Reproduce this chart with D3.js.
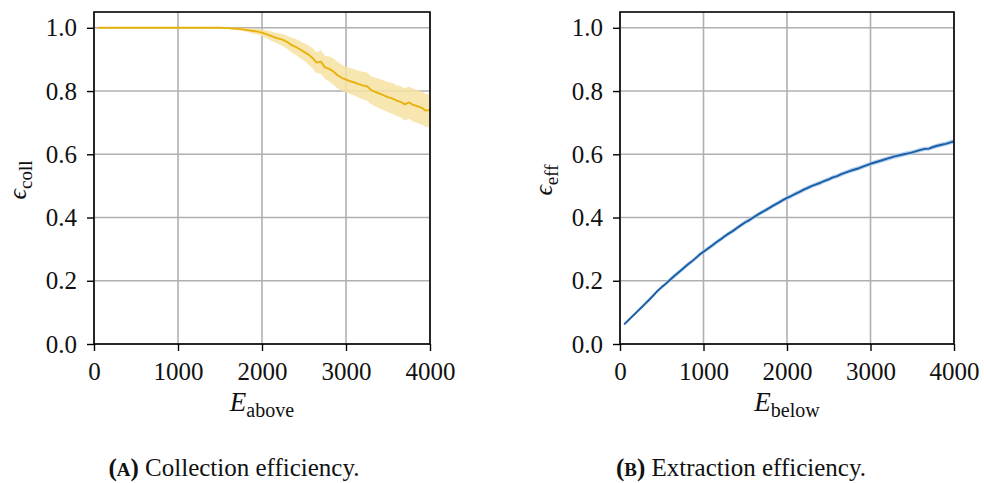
<!DOCTYPE html>
<html>
<head>
<meta charset="utf-8">
<script src="https://cdn.jsdelivr.net/npm/d3@7"></script>
<style>
  body { margin: 0; background: #fff; }
  svg { display: block; }
  text { font-family: "Liberation Serif", "DejaVu Serif", serif; fill: #111; }
</style>
</head>
<body>
<svg id="fig" width="984" height="483"></svg>
<script>
// Energy thresholds sampled along the x axis
const energies = [50,100,150,200,250,300,350,400,450,500,550,600,650,700,750,800,850,900,950,1000,
  1050,1100,1150,1200,1250,1300,1350,1400,1450,1500,1550,1600,1650,1700,1750,1800,1850,1900,1950,2000,
  2050,2100,2150,2200,2250,2300,2350,2400,2450,2500,2550,2600,2650,2700,2750,2800,2850,2900,2950,3000,
  3050,3100,3150,3200,3250,3300,3350,3400,3450,3500,3550,3600,3650,3700,3750,3800,3850,3900,3950,4000];

// (A) collection efficiency: mean, lower and upper band
const collMean = [1.000,1.000,1.000,1.000,1.000,1.000,1.000,1.000,1.000,1.000,1.000,1.000,1.000,1.000,1.000,1.000,1.000,1.000,1.000,1.000,
  1.000,1.000,1.000,1.000,1.000,1.000,1.000,1.000,1.000,1.000,0.999,0.999,0.998,0.997,0.996,0.994,0.992,0.990,0.988,0.985,
  0.980,0.975,0.970,0.966,0.962,0.955,0.946,0.940,0.932,0.924,0.916,0.905,0.890,0.893,0.875,0.870,0.862,0.850,0.842,0.836,
  0.831,0.827,0.822,0.818,0.815,0.803,0.797,0.792,0.786,0.781,0.777,0.770,0.766,0.758,0.764,0.756,0.752,0.747,0.738,0.740];
const collLow = [1.000,1.000,1.000,1.000,1.000,1.000,1.000,1.000,1.000,1.000,1.000,1.000,1.000,1.000,1.000,1.000,1.000,1.000,1.000,1.000,
  1.000,1.000,1.000,1.000,1.000,1.000,1.000,1.000,0.999,0.999,0.998,0.997,0.995,0.993,0.991,0.988,0.985,0.981,0.978,0.974,
  0.967,0.961,0.954,0.948,0.942,0.933,0.922,0.914,0.905,0.896,0.885,0.872,0.856,0.855,0.838,0.830,0.820,0.808,0.801,0.796,
  0.790,0.786,0.779,0.774,0.770,0.758,0.751,0.745,0.739,0.733,0.728,0.722,0.716,0.707,0.712,0.703,0.699,0.694,0.686,0.687];
const collHigh = [1.000,1.000,1.000,1.000,1.000,1.000,1.000,1.000,1.000,1.000,1.000,1.000,1.000,1.000,1.000,1.000,1.000,1.000,1.000,1.000,
  1.000,1.000,1.000,1.000,1.000,1.000,1.000,1.000,1.000,1.000,1.000,1.000,1.000,1.000,1.000,0.999,0.998,0.997,0.996,0.995,
  0.992,0.989,0.985,0.983,0.980,0.976,0.969,0.965,0.958,0.951,0.945,0.936,0.923,0.929,0.912,0.909,0.903,0.892,0.884,0.877,
  0.873,0.869,0.864,0.861,0.859,0.847,0.842,0.838,0.833,0.829,0.826,0.818,0.815,0.809,0.814,0.807,0.803,0.799,0.790,0.792];

// (B) extraction efficiency: mean, lower and upper band
const effMean = [0.062,0.075,0.088,0.101,0.114,0.127,0.140,0.154,0.168,0.180,0.191,0.203,0.215,0.226,0.237,0.249,0.259,0.270,0.282,0.292,
  0.301,0.311,0.321,0.330,0.340,0.349,0.357,0.367,0.376,0.385,0.392,0.401,0.409,0.417,0.424,0.432,0.440,0.447,0.455,0.462,
  0.468,0.475,0.481,0.488,0.494,0.500,0.505,0.510,0.516,0.521,0.527,0.531,0.537,0.542,0.547,0.551,0.555,0.560,0.565,0.570,
  0.574,0.578,0.582,0.586,0.590,0.594,0.597,0.600,0.603,0.606,0.610,0.614,0.617,0.618,0.623,0.627,0.630,0.633,0.637,0.641];
const effLow = [0.058,0.071,0.083,0.096,0.109,0.121,0.134,0.148,0.162,0.174,0.185,0.196,0.208,0.219,0.230,0.242,0.252,0.263,0.275,0.285,
  0.294,0.304,0.314,0.323,0.333,0.342,0.350,0.360,0.369,0.378,0.385,0.394,0.402,0.410,0.417,0.425,0.433,0.440,0.448,0.455,
  0.461,0.468,0.474,0.481,0.487,0.493,0.498,0.503,0.509,0.514,0.520,0.524,0.530,0.535,0.540,0.544,0.548,0.553,0.558,0.563,
  0.567,0.571,0.575,0.579,0.583,0.587,0.590,0.593,0.596,0.599,0.603,0.607,0.610,0.611,0.616,0.620,0.623,0.626,0.630,0.634];
const effHigh = [0.066,0.079,0.093,0.106,0.119,0.133,0.146,0.160,0.174,0.186,0.197,0.210,0.222,0.233,0.244,0.256,0.266,0.277,0.289,0.299,
  0.308,0.318,0.328,0.337,0.347,0.356,0.364,0.374,0.383,0.392,0.399,0.408,0.416,0.424,0.431,0.439,0.447,0.454,0.462,0.469,
  0.475,0.482,0.488,0.495,0.501,0.507,0.512,0.517,0.523,0.528,0.534,0.538,0.544,0.549,0.554,0.558,0.562,0.567,0.572,0.577,
  0.581,0.585,0.589,0.593,0.597,0.601,0.604,0.607,0.610,0.613,0.617,0.621,0.624,0.625,0.630,0.634,0.637,0.640,0.644,0.648];

const xTicks = [0, 1000, 2000, 3000, 4000];
const yTicks = [0.0, 0.2, 0.4, 0.6, 0.8, 1.0];

const panels = [
  { left: 94, right: 430, mean: collMean, low: collLow, high: collHigh,
    line: "#e8b20c", band: "#f7e2a2", ySub: "coll", xSub: "above",
    capTag: "A", capText: " Collection efficiency.", capX: 234 },
  { left: 620, right: 954, mean: effMean, low: effLow, high: effHigh,
    line: "#1b5ea8", band: "#a9c9e8", ySub: "eff", xSub: "below",
    capTag: "B", capText: " Extraction efficiency.", capX: 741 }
];

const plotTop = 12, plotBottom = 344;
const svg = d3.select("#fig");

panels.forEach(p => {
  const x = d3.scaleLinear().domain([0, 4000]).range([p.left, p.right]);
  const y = d3.scaleLinear().domain([0, 1.05]).range([plotBottom, plotTop]);
  const g = svg.append("g");

  // grid
  g.append("g").selectAll("line").data(xTicks).join("line")
    .attr("x1", d => x(d)).attr("x2", d => x(d)).attr("y1", plotTop).attr("y2", plotBottom)
    .attr("stroke", "#b0b0b0").attr("stroke-width", 1.6);
  g.append("g").selectAll("line").data(yTicks).join("line")
    .attr("x1", p.left).attr("x2", p.right).attr("y1", d => y(d)).attr("y2", d => y(d))
    .attr("stroke", "#b0b0b0").attr("stroke-width", 1.6);

  const rows = energies.map((e, i) => ({ e, m: p.mean[i], lo: p.low[i], hi: p.high[i] }));

  g.append("path").datum(rows)
    .attr("d", d3.area().x(d => x(d.e)).y0(d => y(d.lo)).y1(d => y(d.hi)))
    .attr("fill", p.band).attr("fill-opacity", 0.85);
  g.append("path").datum(rows)
    .attr("d", d3.line().x(d => x(d.e)).y(d => y(d.m)))
    .attr("fill", "none").attr("stroke", p.line).attr("stroke-width", 1.9)
    .attr("stroke-linejoin", "round");

  // axes
  const xa = g.append("g").attr("transform", `translate(0,${plotBottom})`)
    .call(d3.axisBottom(x).tickValues(xTicks).tickFormat(d3.format("d")).tickSize(7).tickPadding(11));
  const ya = g.append("g").attr("transform", `translate(${p.left},0)`)
    .call(d3.axisLeft(y).tickValues(yTicks).tickFormat(d3.format(".1f")).tickSize(7).tickPadding(10));
  [xa, ya].forEach(a => {
    a.select(".domain").remove();
    a.selectAll(".tick line").attr("stroke", "#000").attr("stroke-width", 1.4);
    a.selectAll(".tick text").attr("font-size", 25).attr("font-family", "Liberation Serif").attr("fill", "#111");
  });

  // frame
  g.append("rect").attr("x", p.left).attr("y", plotTop)
    .attr("width", p.right - p.left).attr("height", plotBottom - plotTop)
    .attr("fill", "none").attr("stroke", "#000").attr("stroke-width", 1.6);

  // x label: E with subscript
  const xl = g.append("text").attr("x", (p.left + p.right) / 2).attr("y", 411)
    .attr("text-anchor", "middle").attr("font-size", 27);
  xl.append("tspan").attr("font-style", "italic").text("E");
  xl.append("tspan").attr("font-size", 20).attr("dy", 6).text(p.xSub);

  // y label: epsilon with subscript
  const yl = g.append("text")
    .attr("transform", `translate(${p.left - 68},180) rotate(-90)`)
    .attr("text-anchor", "middle").attr("font-size", 26);
  yl.append("tspan").attr("font-style", "italic").text("ϵ");
  yl.append("tspan").attr("font-size", 19).attr("dy", 6).text(p.ySub);

  // caption with bold small-caps tag
  const cap = g.append("text").attr("x", p.capX).attr("y", 476)
    .attr("text-anchor", "middle").attr("font-size", 25);
  cap.append("tspan").attr("font-weight", "bold").text("(");
  cap.append("tspan").attr("font-weight", "bold").attr("font-size", 19).text(p.capTag);
  cap.append("tspan").attr("font-weight", "bold").text(")");
  cap.append("tspan").text(p.capText);
});
</script>
</body>
</html>
